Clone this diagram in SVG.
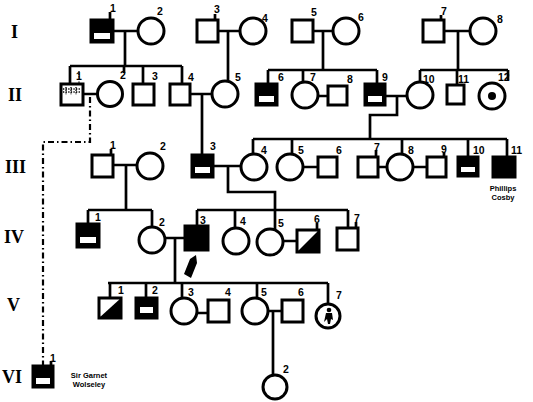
<svg xmlns="http://www.w3.org/2000/svg" width="533" height="402" viewBox="0 0 533 402">
<style>
.s{fill:#fff;stroke:#000;stroke-width:3}
.f{fill:#000;stroke:#000;stroke-width:3}
.w{fill:#fff;stroke:none}
.ln{fill:none;stroke:#000;stroke-width:2.7}
.dd{fill:none;stroke:#000;stroke-width:2.2;stroke-dasharray:6 3 1.5 3}
.dot{fill:none;stroke:#000;stroke-width:1.3;stroke-dasharray:1.3 1.3}
.lb{font-family:"Liberation Sans",Arial,sans-serif;font-weight:bold;font-size:10.5px;fill:#000}
.gen{font-family:"Liberation Serif","Times New Roman",serif;font-weight:bold;font-size:18px;fill:#000}
.nm{font-family:"Liberation Sans",Arial,sans-serif;font-weight:bold;font-size:7.5px;fill:#000}
</style>
<rect width="533" height="402" fill="#fff"/>
<g id="generations">
<text class="gen" x="11" y="38">I</text>
<text class="gen" x="8" y="101">II</text>
<text class="gen" x="5" y="173">III</text>
<text class="gen" x="4" y="243">IV</text>
<text class="gen" x="7" y="311">V</text>
<text class="gen" x="2" y="383">VI</text>
</g>
<g id="connectors">
<path class="ln" d="M113,31H138M125,31V66M70,66H182M70,66V84M124,66V73M143,66V84M182,66V84"/>
<path class="ln" d="M218,31H240M228,31V81"/>
<path class="ln" d="M313,31H333M323,31V70M268,70H377M268,70V84M303,70V82M377,70V84"/>
<path class="ln" d="M444,31H470M458,31V70M420,70H508M420,70V82M457,70V85M508,70V80"/>
<path class="ln" d="M83,94H97M190,94H212M202,94V155M318,96H328M385,96H407M397,96V115H370V139"/>
<path class="dd" d="M90,97V142H43V366"/>
<path class="ln" d="M253,139H507M253,139V154M292,139V154M402,139V154M468,139V157M507,139V157"/>
<path class="ln" d="M113,165H137M126,165V210M88,210H152M88,210V224M152,210V227"/>
<path class="ln" d="M213,166H241M228,166V192H275V229M197,210H348M197,210V226M235,210V227M348,210V228"/>
<path class="ln" d="M303,167H318M378,167H387M413,167H427"/>
<path class="ln" d="M165,238H185M175,238V283M283,241H297"/>
<path class="ln" d="M108,283H328M110,283V298M146,283V298M182,283V297M257,283V297M328,283V304"/>
<path class="ln" d="M197,313H208M268,311H282M273,311V375"/>
</g>
<g id="I-1"><rect class="f" x="91" y="20" width="22" height="22"/><rect class="w" x="94" y="33" width="16" height="6"/><path class="ln" d="M110,20V12"/><text class="lb" x="110" y="12">1</text></g>
<g id="I-2"><circle class="s" cx="151" cy="31" r="13"/><text class="lb" x="157" y="15">2</text></g>
<g id="I-3"><rect class="s" x="197" y="20" width="21" height="22"/><path class="ln" d="M215,20V14"/><text class="lb" x="214" y="13">3</text></g>
<g id="I-4"><circle class="s" cx="253" cy="31" r="13"/><text class="lb" x="262" y="22">4</text></g>
<g id="I-5"><rect class="s" x="292" y="20" width="21" height="22"/><text class="lb" x="311" y="16">5</text></g>
<g id="I-6"><circle class="s" cx="346" cy="31" r="13"/><text class="lb" x="358" y="21">6</text></g>
<g id="I-7"><rect class="s" x="423" y="20" width="21" height="22"/><path class="ln" d="M441,20V15"/><text class="lb" x="441" y="15">7</text></g>
<g id="I-8"><circle class="s" cx="483" cy="31" r="13"/><text class="lb" x="497" y="23">8</text></g>
<g id="II-1"><rect class="s" x="61" y="84" width="22" height="21"/><path class="dot" d="M66,87V95M71,87V95M76,87V95M63,89H80M63,92H80M79,71V83"/><text class="lb" x="76" y="80">1</text></g>
<g id="II-2"><circle class="s" cx="110" cy="94" r="12.5"/><text class="lb" x="120" y="79">2</text></g>
<g id="II-3"><rect class="s" x="133" y="84" width="21" height="21"/><text class="lb" x="152" y="80">3</text></g>
<g id="II-4"><rect class="s" x="170" y="84" width="20" height="21"/><text class="lb" x="188" y="81">4</text></g>
<g id="II-5"><circle class="s" cx="225" cy="94" r="13"/><text class="lb" x="235" y="81">5</text></g>
<g id="II-6"><rect class="f" x="256" y="84" width="21" height="21"/><rect class="w" x="259" y="96" width="15" height="6"/><text class="lb" x="278" y="81">6</text></g>
<g id="II-7"><circle class="s" cx="305" cy="95" r="13"/><text class="lb" x="310" y="81">7</text></g>
<g id="II-8"><rect class="s" x="328" y="86" width="19" height="19"/><text class="lb" x="347" y="83">8</text></g>
<g id="II-9"><rect class="f" x="365" y="84" width="20" height="21"/><rect class="w" x="368" y="96" width="14" height="6"/><text class="lb" x="382" y="81">9</text></g>
<g id="II-10"><circle class="s" cx="420" cy="95" r="13"/><text class="lb" x="423" y="83">10</text></g>
<g id="II-11"><rect class="s" x="447" y="85" width="17" height="19"/><text class="lb" x="458" y="83">11</text></g>
<g id="II-12"><circle class="s" cx="492" cy="96" r="13"/><circle cx="492" cy="96" r="4" fill="#000"/><text class="lb" x="498" y="81">12</text></g>
<g id="III-1"><rect class="s" x="92" y="155" width="21" height="22"/><path class="ln" d="M111,155V149"/><text class="lb" x="110" y="149">1</text></g>
<g id="III-2"><circle class="s" cx="150" cy="166" r="13"/><text class="lb" x="160" y="150">2</text></g>
<g id="III-3"><rect class="f" x="192" y="155" width="21" height="22"/><rect class="w" x="195" y="167" width="15" height="6"/><text class="lb" x="210" y="150">3</text></g>
<g id="III-4"><circle class="s" cx="254" cy="167" r="13"/><text class="lb" x="261" y="154">4</text></g>
<g id="III-5"><circle class="s" cx="290" cy="167" r="13"/><text class="lb" x="298" y="154">5</text></g>
<g id="III-6"><rect class="s" x="318" y="157" width="19" height="20"/><text class="lb" x="336" y="154">6</text></g>
<g id="III-7"><rect class="s" x="358" y="157" width="20" height="20"/><path class="ln" d="M376,157V150"/><text class="lb" x="374" y="151">7</text></g>
<g id="III-8"><circle class="s" cx="400" cy="167" r="13"/><text class="lb" x="408" y="154">8</text></g>
<g id="III-9"><rect class="s" x="427" y="157" width="19" height="20"/><path class="ln" d="M444,157V152"/><text class="lb" x="441" y="153">9</text></g>
<g id="III-10"><rect class="f" x="458" y="157" width="20" height="19"/><rect class="w" x="461" y="167" width="14" height="5"/><text class="lb" x="473" y="154">10</text></g>
<g id="III-11"><rect class="f" x="493" y="157" width="22" height="20"/><text class="lb" x="511" y="154">11</text><text class="nm" x="503" y="191" text-anchor="middle">Phillips</text><text class="nm" x="503" y="200" text-anchor="middle" font-size="8.5px">Cosby</text></g>
<g id="IV-1"><rect class="f" x="77" y="224" width="22" height="23"/><rect class="w" x="80" y="237" width="16" height="6"/><text class="lb" x="95" y="221">1</text></g>
<g id="IV-2"><circle class="s" cx="152" cy="240" r="13"/><text class="lb" x="159" y="226">2</text></g>
<g id="IV-3"><rect class="f" x="185" y="226" width="23" height="24"/><text class="lb" x="200" y="224">3</text><polygon points="184,274 190,259 196,255 197,263 191,278" fill="#000"/></g>
<g id="IV-4"><circle class="s" cx="236" cy="241" r="13"/><text class="lb" x="240" y="225">4</text></g>
<g id="IV-5"><circle class="s" cx="270" cy="242" r="13"/><text class="lb" x="278" y="227">5</text></g>
<g id="IV-6"><rect class="s" x="297" y="230" width="22" height="22"/><polygon points="319,230 319,252 297,252" fill="#000"/><path class="ln" d="M317,230V223"/><text class="lb" x="314" y="223">6</text></g>
<g id="IV-7"><rect class="s" x="337" y="228" width="21" height="22"/><path class="ln" d="M356,228V222"/><text class="lb" x="354" y="222">7</text></g>
<g id="V-1"><rect class="s" x="99" y="298" width="22" height="20"/><polygon points="121,298 121,318 99,318" fill="#000"/><text class="lb" x="118" y="294">1</text></g>
<g id="V-2"><rect class="f" x="136" y="298" width="21" height="20"/><rect class="w" x="140" y="307" width="13" height="6"/><text class="lb" x="152" y="294">2</text></g>
<g id="V-3"><circle class="s" cx="184" cy="311" r="13"/><text class="lb" x="188" y="296">3</text></g>
<g id="V-4"><rect class="s" x="208" y="300" width="21" height="22"/><text class="lb" x="225" y="296">4</text></g>
<g id="V-5"><circle class="s" cx="255" cy="311" r="13"/><text class="lb" x="261" y="296">5</text></g>
<g id="V-6"><rect class="s" x="282" y="300" width="21" height="22"/><text class="lb" x="298" y="296">6</text></g>
<g id="V-7"><circle class="s" cx="328" cy="316" r="12"/><circle cx="329" cy="310" r="2.3" fill="#000"/><path d="M326,313H332L333,320L331,319L330,324H328L327,319L324,322Z" fill="#000"/><text class="lb" x="336" y="299">7</text></g>
<g id="VI-1"><rect class="f" x="33" y="366" width="20" height="21"/><rect class="w" x="36" y="378" width="14" height="6"/><path class="ln" d="M51,366V361"/><text class="lb" x="50" y="362">1</text><text class="nm" x="89" y="378" text-anchor="middle">Sir Garnet</text><text class="nm" x="89" y="387" text-anchor="middle">Wolseley</text></g>
<g id="VI-2"><circle class="s" cx="275" cy="387" r="12"/><text class="lb" x="283" y="373">2</text></g>
</svg>
